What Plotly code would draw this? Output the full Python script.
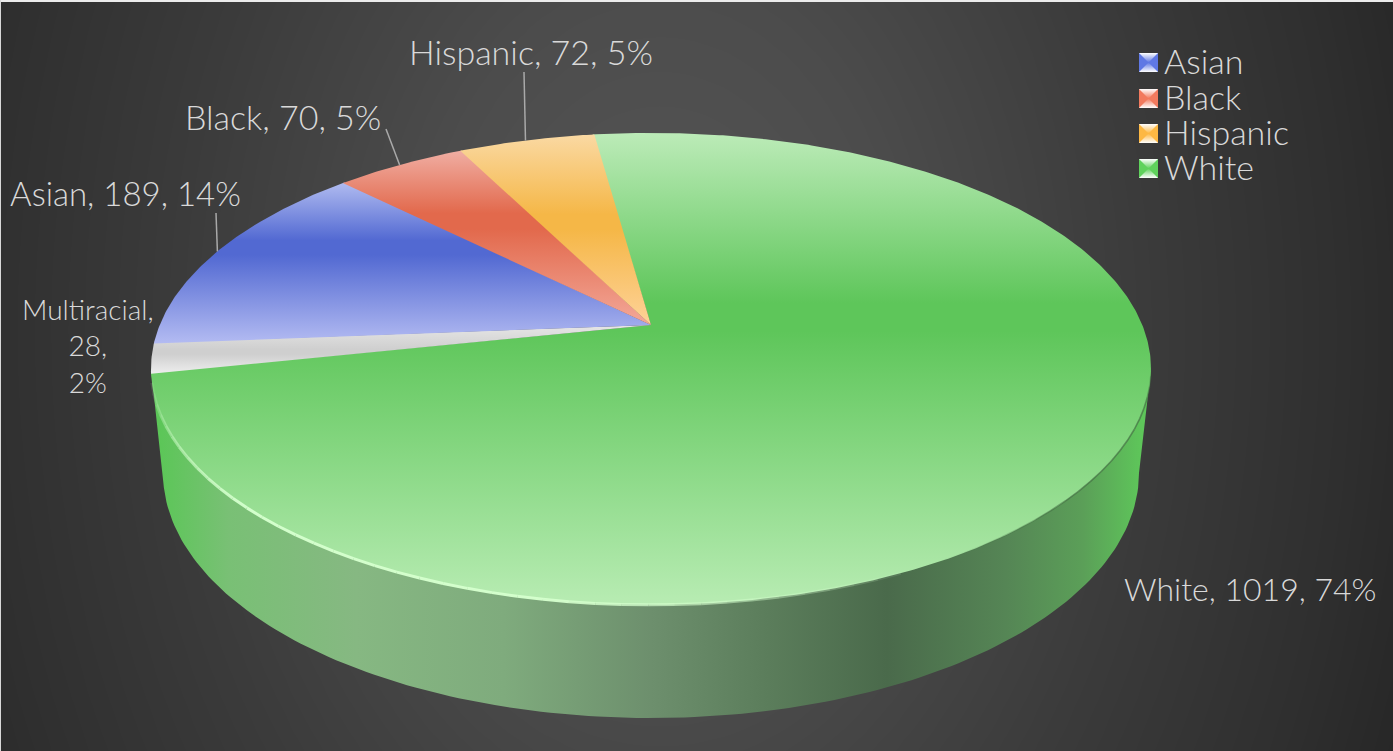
import numpy as np
import plotly.graph_objects as go

# Student headcount by group
categories = ["White", "Multiracial", "Asian", "Black", "Hispanic"]
values = [1019, 28, 189, 70, 72]
percent_labels = ["74%", "2%", "14%", "5%", "5%"]
legend_groups = ["Asian", "Black", "Hispanic", "White"]

# Vertical tone ramp per slice
slice_tones = {
    "White": ["#bcebb8", "#5ec65a", "#5ec65a", "#b8ecb3"],
    "Multiracial": ["#e6e6e6", "#cfcfcf", "#cfcfcf", "#eeeeee"],
    "Asian": ["#b0bbf0", "#5269d2", "#5269d2", "#b3bbf2"],
    "Black": ["#f0aea3", "#e2694c", "#e2694c", "#f3a899"],
    "Hispanic": ["#fad9a3", "#f5b747", "#f5b747", "#fed298"],
}
tone_stops = {
    "White": [0, 0.36, 0.42, 1],
    "Multiracial": [0, 0.5, 0.6, 1],
    "Asian": [0, 0.36, 0.45, 1],
    "Black": [0, 0.36, 0.45, 1],
    "Hispanic": [0, 0.42, 0.5, 1],
}
icon_colors = {"Asian": "#5f78e4", "Black": "#f27a5e", "Hispanic": "#fdb843", "White": "#5fd25c"}

# Projection of the tilted disc onto the page
CX, CY, AX, BY, PERSP = 651.0, 325.0, 491.3, 227.8, 0.186
START_DEG = -8.1  # clockwise from twelve o'clock
BASE_CY, BASE_A, BASE_B = 473.0, 488.0, 245.0
RIM_RIGHT, RIM_LEFT = 100.7, 259.3  # widest points of the top face
W, H = 1393, 751


def rim(deg):
    t = np.radians(deg)
    x, y = np.sin(t), np.cos(t)
    d = 1 + PERSP * y
    return CX + AX * x / d, CY - BY * y / d


total = sum(values)
spans = [v / total * 360 for v in values]
starts = START_DEG + np.concatenate([[0], np.cumsum(spans)[:-1]])
bounds = {c: (s, s + a) for c, s, a in zip(categories, starts, spans)}

fig = go.Figure()

# Backdrop
bx = np.linspace(0, W, 240)
by = np.linspace(0, H, 130)
gx, gy = np.meshgrid(bx, by)
dist = np.sqrt(((gx - 660) / 700) ** 2 + ((gy - 330) / 1000) ** 2)
fig.add_trace(go.Heatmap(
    x=bx, y=by, z=dist, zmin=0, zmax=1.15, zsmooth="best", showscale=False, hoverinfo="skip",
    colorscale=[[0, "#565656"], [0.3, "#4c4c4c"], [0.6, "#3b3b3b"], [0.85, "#2f2f2f"], [1, "#262626"]],
))

# Side wall of the disc: base arc, left to right, closed through the widest rim points
front = np.linspace(np.pi, 0, 160)
left_pt, right_pt = rim(RIM_LEFT), rim(RIM_RIGHT)
side_x = np.concatenate([[left_pt[0]], CX + BASE_A * np.cos(front), [right_pt[0]]])
side_y = np.concatenate([[left_pt[1]], BASE_CY + BASE_B * np.sin(front), [right_pt[1]]])
fig.add_trace(go.Scatter(
    x=side_x, y=side_y, mode="lines", line=dict(width=0), fill="toself", hoverinfo="skip", showlegend=False,
    fillgradient=dict(type="horizontal", start=160, stop=1142, colorscale=[
        [0, "#5cc658"], [0.07, "#79c075"], [0.2, "#86b882"], [0.35, "#7fab7d"], [0.5, "#6d8f6d"],
        [0.62, "#5b7d5b"], [0.74, "#4a6a4b"], [0.86, "#558555"], [0.94, "#5b9f58"], [1, "#5ec65a"],
    ]),
))

# Top face, one wedge per category; a sliver of overlap hides seams
for cat in categories:
    a0, a1 = bounds[cat]
    arc = np.linspace(a0, a1 + 0.25, max(8, int((a1 - a0) * 2)))
    xs, ys = rim(arc)
    px = np.concatenate([[CX], xs, [CX]])
    py = np.concatenate([[CY], ys, [CY]])
    scale = [[s, c] for s, c in zip(tone_stops[cat], slice_tones[cat])]
    fig.add_trace(go.Scatter(
        x=px, y=py, mode="lines", line=dict(width=0), fill="toself", name=cat, hoverinfo="name",
        showlegend=False,
        fillgradient=dict(type="vertical", start=float(py.min()), stop=float(py.max()), colorscale=scale),
    ))

# Rim highlight along the front edge, strongest on the lower left
rim_edges = np.linspace(256, 155, 41)
for a, b in zip(rim_edges[:-1], rim_edges[1:]):
    mid = (a + b) / 2
    glow = np.clip(min((256 - mid) / 30, (mid - 155) / 35), 0, 1)
    xs, ys = rim(np.linspace(a, b, 6))
    fig.add_trace(go.Scatter(
        x=xs, y=ys, mode="lines", hoverinfo="skip", showlegend=False,
        line=dict(width=3, color=f"rgba(212,255,205,{0.08 + 0.9 * glow:.2f})"),
    ))
dark_edges = np.linspace(150, 100, 21)
for a, b in zip(dark_edges[:-1], dark_edges[1:]):
    mid = (a + b) / 2
    shade = np.clip(min((150 - mid) / 20, (mid - 100) / 8), 0, 1)
    xs, ys = rim(np.linspace(a, b, 5))
    fig.add_trace(go.Scatter(
        x=xs, y=ys, mode="lines", hoverinfo="skip", showlegend=False,
        line=dict(width=1.6, color=f"rgba(65,105,65,{0.65 * shade:.2f})"),
    ))

# Leader lines from the outer labels to the wedge rims
leader_starts = {"Asian": (216, 213), "Black": (386, 129), "Hispanic": (524, 72)}
for cat, (lx, ly) in leader_starts.items():
    ex, ey = rim(sum(bounds[cat]) / 2)
    fig.add_trace(go.Scatter(x=[lx, ex], y=[ly, ey], mode="lines", hoverinfo="skip", showlegend=False,
                             line=dict(width=1.5, color="#a9a9a9")))

# Legend swatches
icon_tops = dict(zip(legend_groups, [53, 89, 124, 159]))
ICON_X, ICON_S = 1139, 19
for cat in legend_groups:
    top = icon_tops[cat]
    col = icon_colors[cat]
    l, r, b, m, c = ICON_X, ICON_X + ICON_S, top + ICON_S, top + ICON_S / 2, ICON_X + ICON_S / 2
    fig.add_trace(go.Scatter(x=[l, r, r, l, l], y=[top, top, b, b, top], mode="lines", line=dict(width=0),
                             fill="toself", fillcolor=col, hoverinfo="skip", showlegend=False))
    for y0 in (top, b):
        fig.add_trace(go.Scatter(
            x=[l, r, c, l], y=[y0, y0, m, y0], mode="lines", line=dict(width=0), fill="toself",
            hoverinfo="skip", showlegend=False,
            fillgradient=dict(type="vertical", start=min(y0, m), stop=max(y0, m),
                              colorscale=[[0, "#ffffff" if y0 == top else col], [1, col if y0 == top else "#ffffff"]]),
        ))

FONT = "Lato"
TEXT = "#d9d9d9"
label_pos = {
    "White": (1250, 588, 32),
    "Asian": (125, 193, 33),
    "Black": (283, 116, 34),
    "Hispanic": (531, 51, 34),
}
annotations = []
for cat, val, pct in zip(categories, values, percent_labels):
    if cat in label_pos:
        x, y, size = label_pos[cat]
        annotations.append(dict(x=x, y=y, text=f"{cat}, {val}, {pct}", font=dict(size=size)))
    else:
        annotations.append(dict(x=88, y=345, text=f"{cat},<br>{val},<br>{pct}", font=dict(size=28)))
for cat in legend_groups:
    annotations.append(dict(x=1162, y=icon_tops[cat] + 7, text=cat, xanchor="left", font=dict(size=34)))
for a in annotations:
    a.setdefault("xanchor", "center")
    a.update(xref="x", yref="y", yanchor="middle", showarrow=False)
    a["font"].update(family=FONT, color=TEXT, weight=300)

fig.update_layout(
    width=W, height=H, autosize=False, margin=dict(l=0, r=0, t=0, b=0),
    paper_bgcolor="#2e2e2e", plot_bgcolor="#2e2e2e", showlegend=False, annotations=annotations,
    xaxis=dict(range=[0, W], visible=False, fixedrange=True),
    yaxis=dict(range=[H, 0], visible=False, fixedrange=True),
    shapes=[
        dict(type="rect", xref="x", yref="y", x0=0, x1=W, y0=0, y1=2, line_width=0, fillcolor="#ececec"),
        dict(type="rect", xref="x", yref="y", x0=0, x1=1, y0=0, y1=H, line_width=0, fillcolor="#d8d8d8"),
    ],
)
fig.write_html("out.html", config=dict(displayModeBar=False))
